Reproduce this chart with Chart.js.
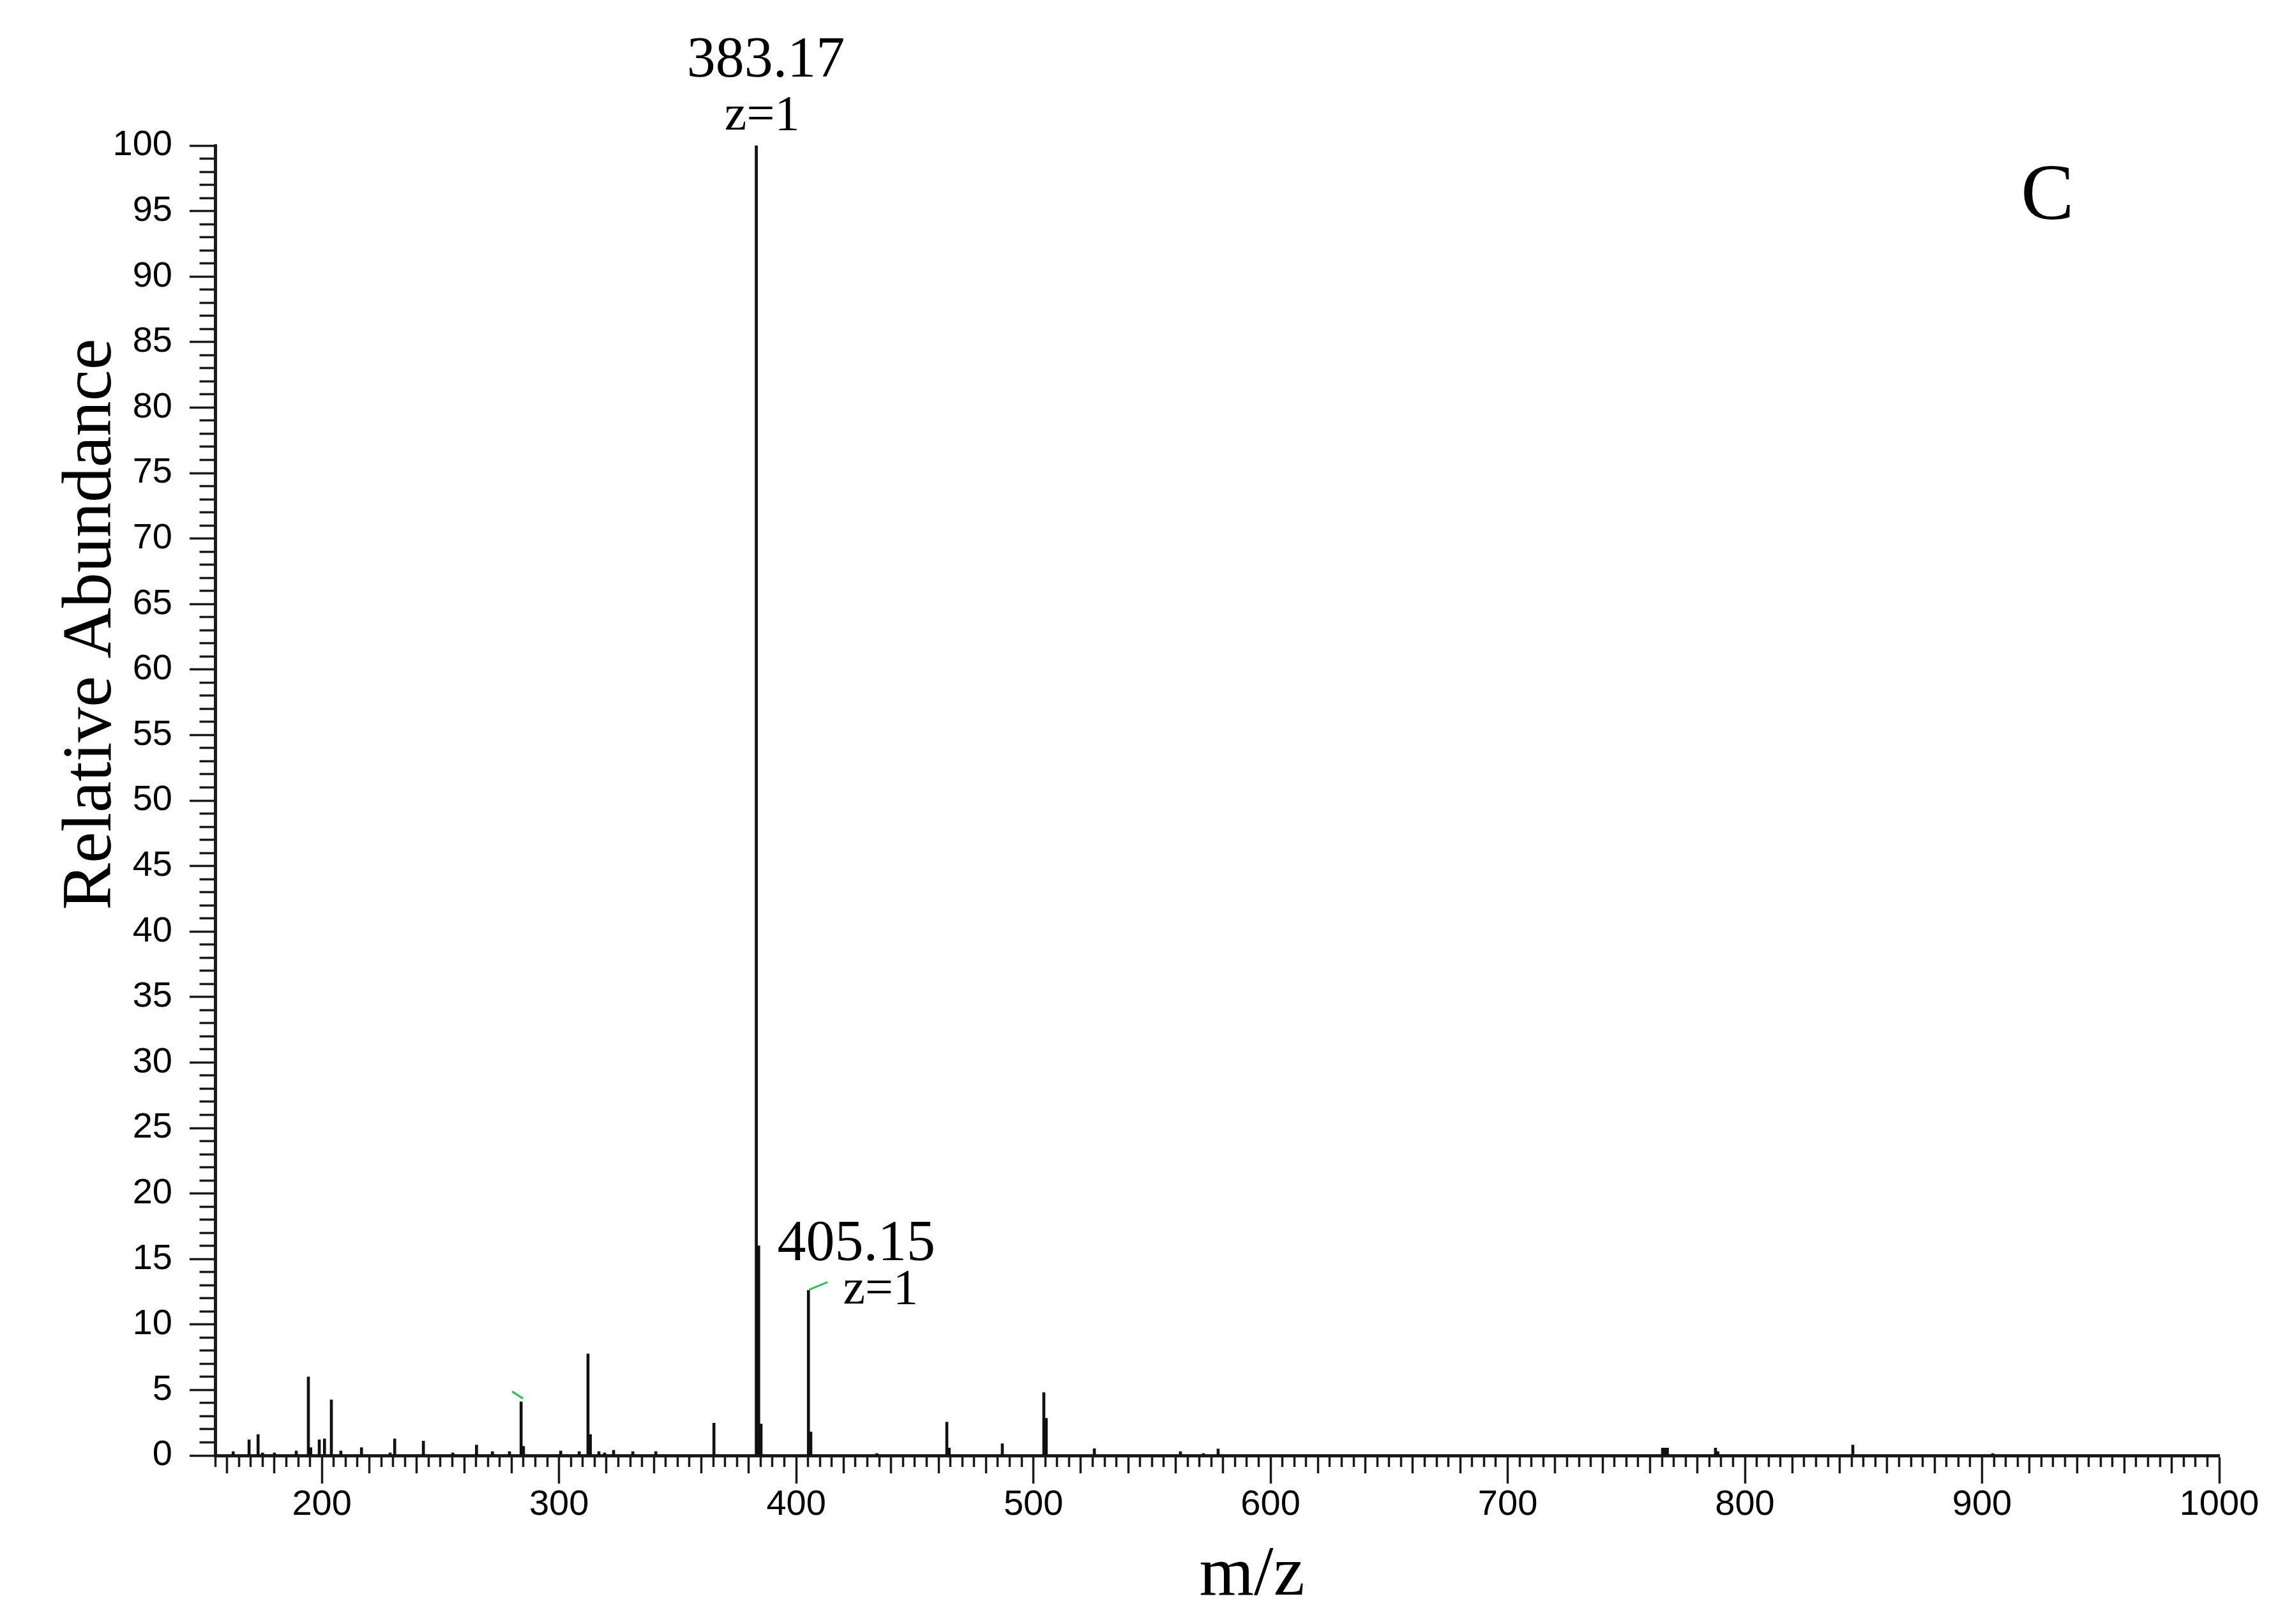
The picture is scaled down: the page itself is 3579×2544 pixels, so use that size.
<!DOCTYPE html>
<html>
<head>
<meta charset="utf-8">
<title>Mass spectrum C</title>
<script src="https://cdn.jsdelivr.net/npm/chart.js@4.4.1/dist/chart.umd.min.js"></script>
<style>
  html, body { margin: 0; padding: 0; background: #fff; }
  #spectrum { display: block; }
</style>
</head>
<body>
<canvas id="spectrum" width="3579" height="2544"></canvas>
<script>
// ---- Data ----
const mzValues = [
  162.6, 169.3, 173.1, 175.0, 180.0, 189.2, 194.3, 195.3, 198.9, 201.1,
  204.0, 208.0, 216.7, 228.8, 230.7, 242.8, 255.2, 265.2, 271.9, 279.1,
  284.0, 285.0, 300.7, 308.5, 312.2, 313.2, 316.8, 319.2, 323.0, 331.1,
  340.8, 365.3, 383.17, 384.17, 385.17, 405.15, 406.15, 434.0, 463.5, 464.5,
  486.9, 504.4, 505.4, 525.7, 562.0, 571.7, 577.9, 765.3, 766.3, 767.3,
  787.6, 788.6, 845.5, 904.5
];
const abundance = [
  0.3, 1.2, 1.6, 0.2, 0.2, 0.35, 6.0, 0.6, 1.2, 1.27,
  4.25, 0.35, 0.6, 0.2, 1.27, 1.1, 0.2, 0.8, 0.3, 0.3,
  4.1, 0.7, 0.35, 0.3, 7.76, 1.6, 0.3, 0.2, 0.4, 0.3,
  0.3, 2.47, 100, 16.0, 2.4, 12.6, 1.8, 0.15, 2.55, 0.57,
  0.9, 4.8, 2.84, 0.52, 0.3, 0.15, 0.5, 0.57, 0.57, 0.57,
  0.57, 0.3, 0.8, 0.15
];

// labelled peaks (m/z, charge)
const labelledMz = [383.17, 405.15];
const labelledCharge = [1, 1];
// peaks carrying the small green connector marks
const markedMz = [284.0, 405.15];

const xMin = 155, xMax = 1000;
const yMin = 0, yMax = 100;

// ---- Tick helpers ----
function xTickDash(ctx) {
  const v = Math.round(ctx.tick.value);
  if (v % 100 === 0) return [];
  if (v % 20 === 0) return [25, 200];
  return [15, 200];
}
function yTickDash(ctx) {
  const v = Math.round(ctx.tick.value);
  if (v % 5 === 0) return [];
  return [0, 15.5, 200, 0];
}

// ---- Annotation plugin: peak labels, connectors, axis titles, panel letter ----
const annotations = {
  id: "annotations",
  afterDraw(chart) {
    const c = chart.ctx;
    const xs = chart.scales.x, ys = chart.scales.y;
    const yOf = (m) => ys.getPixelForValue(abundance[mzValues.indexOf(m)]);
    c.save();
    c.fillStyle = "#000";

    // peak labels
    const offsets = [
      { dx: 15, dy: -108, zdx: 9, zdy: -25 },
      { dx: 75, dy: -47, zdx: 113, zdy: 21 },
    ];
    labelledMz.forEach((m, i) => {
      const px = xs.getPixelForValue(m);
      const py = yOf(m);
      const o = offsets[i];
      c.textAlign = "center";
      c.textBaseline = "alphabetic";
      c.font = "90px 'Liberation Serif'";
      c.fillText(m.toFixed(2), px + o.dx, py + o.dy);
      c.font = "78px 'Liberation Serif'";
      c.fillText("z=" + labelledCharge[i], px + o.zdx, py + o.zdy);
    });

    // green connector stubs
    c.strokeStyle = "#2fbf5a";
    c.lineWidth = 3;
    const stubs = [
      { x1: 3, y1: -5, x2: -14, y2: -16 },
      { x1: 1, y1: -1, x2: 30, y2: -13 },
    ];
    markedMz.forEach((m, i) => {
      const px = xs.getPixelForValue(m);
      const py = yOf(m);
      const s = stubs[i];
      c.beginPath();
      c.moveTo(px + s.x1, py + s.y1);
      c.lineTo(px + s.x2, py + s.y2);
      c.stroke();
    });

    // axis titles
    c.fillStyle = "#000";
    c.font = "110px 'Liberation Serif'";
    c.textAlign = "center";
    c.textBaseline = "alphabetic";
    c.fillText("m/z", 1961, 2498);

    c.save();
    c.translate(173, 978);
    c.rotate(-Math.PI / 2);
    c.fillText("Relative Abundance", 0, 0);
    c.restore();

    // panel letter
    c.font = "125px 'Liberation Serif'";
    c.fillText("C", 3207, 343);
    c.restore();
  },
};

const ctx = document.getElementById("spectrum").getContext("2d");

new Chart(ctx, {
  type: "bar",
  data: {
    datasets: [
      {
        data: mzValues.map((m, i) => ({ x: m, y: abundance[i] })),
        backgroundColor: "#111",
        borderWidth: 0,
        barThickness: 4,
      },
    ],
  },
  options: {
    responsive: false,
    animation: false,
    devicePixelRatio: 1,
    layout: { padding: { top: 228, right: 103, left: 0, bottom: 0 } },
    plugins: {
      legend: { display: false },
      tooltip: { enabled: false },
      title: { display: false },
    },
    scales: {
      x: {
        type: "linear",
        min: xMin,
        max: xMax,
        offset: false,
        grid: {
          offset: false,
          drawOnChartArea: false,
          drawTicks: true,
          tickLength: 44,
          tickWidth: 3.5,
          tickColor: "#1a1a1a",
          tickBorderDash: xTickDash,
        },
        border: { display: true, width: 5, color: "#1a1a1a" },
        ticks: {
          stepSize: 5,
          autoSkip: false,
          maxRotation: 0,
          minRotation: 0,
          padding: 0,
          color: "#000",
          font: { family: "'Liberation Sans', Arial, sans-serif", size: 56 },
          callback: (v) => (Math.round(v) % 100 === 0 ? String(Math.round(v)) : ""),
        },
        afterFit: (s) => { s.height = 264; },
      },
      y: {
        min: yMin,
        max: yMax,
        grid: {
          drawOnChartArea: false,
          drawTicks: true,
          tickLength: 40,
          tickWidth: 3.5,
          tickColor: "#1a1a1a",
          tickBorderDash: yTickDash,
        },
        border: { display: true, width: 5, color: "#1a1a1a" },
        ticks: {
          stepSize: 1,
          autoSkip: false,
          padding: 27,
          color: "#000",
          font: { family: "'Liberation Sans', Arial, sans-serif", size: 56 },
          callback: (v) => (Math.round(v) % 5 === 0 ? String(Math.round(v)) : ""),
        },
        afterFit: (s) => { s.width = 337; },
      },
    },
  },
  plugins: [annotations],
});
</script>
</body>
</html>
